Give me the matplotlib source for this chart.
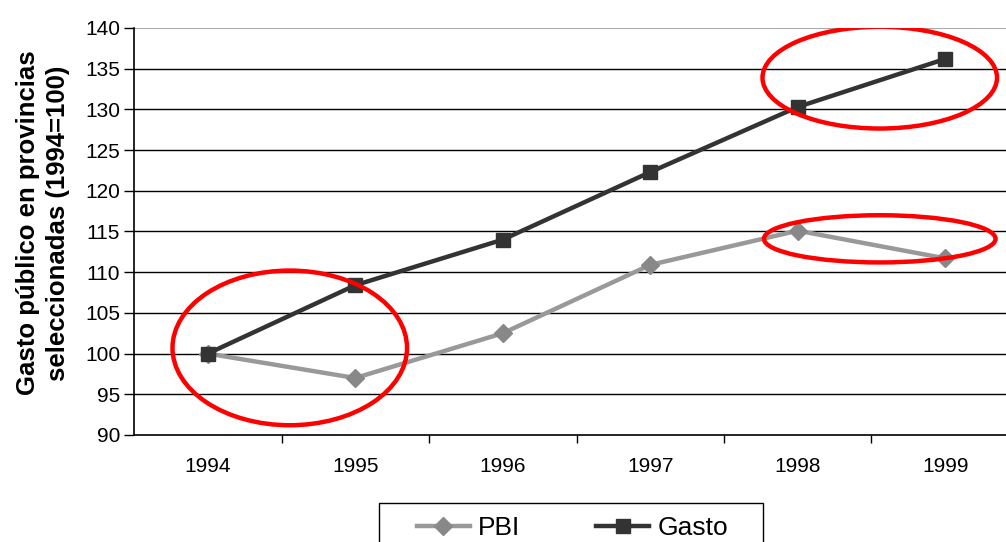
import matplotlib.pyplot as plt
from matplotlib.patches import Ellipse, Rectangle

plt.rcParams['font.family'] = ['Liberation Sans', 'DejaVu Sans']

years = ['1994', '1995', '1996', '1997', '1998', '1999']
pbi = [100.0, 97.0, 102.5, 110.9, 115.1, 111.7]
gasto = [100.0, 108.4, 114.0, 122.3, 130.3, 136.2]

# red circles drawn over the chart: (center x index, center value, width, height)
circles = [(0.556, 100.7, 1.59, 19.0), (4.556, 133.9, 1.59, 12.5), (4.556, 114.1, 1.57, 5.8)]

fig = plt.figure(figsize=(10.06, 5.42), dpi=100)
ax = fig.add_axes([134 / 1006, 1 - 435 / 542, 885 / 1006, 407 / 542])

x = list(range(len(years)))
ax.plot(x, pbi, color='#999999', lw=3.2, marker='D', ms=9, mfc='#888888', mec='#888888', label='PBI', zorder=3)
ax.plot(x, gasto, color='#333333', lw=3.2, marker='s', ms=10, mfc='#333333', mec='#333333', label='Gasto', zorder=4)

for cx, cy, w, h in circles:
    ax.add_patch(Ellipse((cx, cy), w, h, fill=False, ec='#ff0000', lw=3.2, zorder=5))

ax.set_xlim(-0.5, len(years) - 0.5)
ax.set_ylim(90, 140)
ax.set_yticks(range(90, 141, 5))
ax.set_xticks(x)
ax.set_xticklabels(years)
ax.set_xticks([i + 0.5 for i in x[:-1]], minor=True)
ax.tick_params(axis='x', which='major', length=0, pad=16, labelsize=15)
ax.tick_params(axis='x', which='minor', length=6, width=1, direction='out')
ax.tick_params(axis='y', length=7, width=1, direction='out', pad=3, labelsize=15)
for v in range(95, 140, 5):
    ax.axhline(v, color='black', lw=1, zorder=1)
ax.axhline(140, color='#aaaaaa', lw=1.5, zorder=1)
for s in ['top', 'right']:
    ax.spines[s].set_visible(False)
ax.spines['left'].set_linewidth(1.2)
ax.spines['bottom'].set_linewidth(1.2)

fig.text(43 / 1006, 1 - 223 / 542, 'Gasto público en provincias\nseleccionadas (1994=100)',
         rotation=90, ha='center', va='center', multialignment='center',
         fontsize=18.5, fontweight='bold', linespacing=1.3)

fig.patches.append(Rectangle((379 / 1006, -0.05), 384 / 1006, 0.05 + 1 - 503 / 542,
                             transform=fig.transFigure, fill=False, ec='black', lw=1))
fig.legend(loc='center left', bbox_to_anchor=(417 / 1006, 1 - 528 / 542), ncol=2, frameon=False,
           fontsize=19, handlelength=2.0, handletextpad=0.3, columnspacing=2.9,
           borderpad=0, borderaxespad=0)

fig.savefig('out.png', dpi=100)
